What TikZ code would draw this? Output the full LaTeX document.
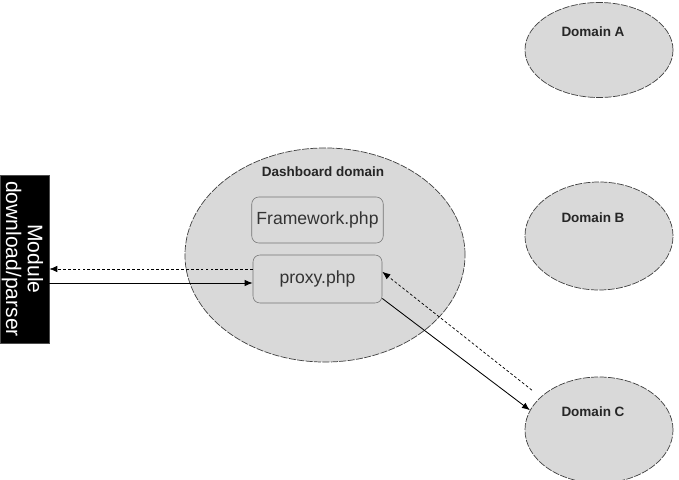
\documentclass[tikz,border=0pt]{standalone}
\usepackage{fontspec}
\setmainfont{Liberation Sans}
\usepackage{tikz}
\usetikzlibrary{arrows.meta, positioning, shapes.geometric, calc}

\begin{document}
\begin{tikzpicture}[
  x=0.025cm, y=-0.025cm,
  >=Latex,
  domnode/.style={ellipse,draw=black!75,fill=black!15,line width=0.5pt,dash pattern=on 5pt off 1pt,minimum width=3.7cm,inner sep=0pt},
  dlabel/.style={font=\bfseries\fontsize{9.6}{11}\selectfont,text=black!85,inner sep=0pt},
  phpbox/.style={draw=black!55,fill=black!15,rounded corners=5pt,line width=0.4pt,minimum width=3.225cm,minimum height=1.2cm,font=\fontsize{12.5}{14}\selectfont,text=black!80},
  arr/.style={-{Latex[length=2mm,width=1.6mm]},line width=0.6pt},
  back/.style={-{Latex[length=2mm,width=1.6mm]},line width=0.5pt,dash pattern=on 2pt off 1.5pt}
]
\useasboundingbox (0,0) rectangle (679,480);
\clip (0,0) rectangle (679,480);

% domains
\node[domnode,minimum width=7cm,minimum height=5.35cm] (dash) at (325,255) {};
\node[domnode,minimum height=2.375cm] (domA) at (599,50) {};
\node[domnode,minimum height=2.7cm] (domB) at (599,236) {};
\node[domnode,minimum height=2.65cm] (domC) at (599,430) {};

\node[dlabel] (dashlabel) at (323,172) {Dashboard domain};
\node[dlabel] (labelA) at (593,32) {Domain A};
\node[dlabel] (labelB) at (593,218) {Domain B};
\node[dlabel] (labelC) at (593,412) {Domain C};

% php files
\node[phpbox,minimum height=1.15cm] (framework) at (317.5,220) {Framework.php};
\node[phpbox] (proxy) at (317.5,279) {proxy.php};

% module
\node[draw=black!70,fill=black,minimum width=1.225cm,minimum height=4.2cm,inner sep=0pt] (module) at (24.5,259) {};
\node[rotate=-90,text=white,align=center,font=\fontsize{15}{15.5}\selectfont,inner sep=0pt] (moduletext) at (22.5,259) {Module\\download/parser};

% connectors
\draw[back] ([yshift=0.25cm]proxy.west) -- ([yshift=0.25cm]proxy.west -| module.east);
\draw[arr] ([yshift=-0.1cm]proxy.west -| module.east) -- ([yshift=-0.1cm]proxy.west);
\draw[arr] ([yshift=0.12cm]proxy.south east) -- (domC.164);
\draw[back] ($(domC.164)+(2,-20)$) -- ([yshift=0.18cm]proxy.east);
\end{tikzpicture}
\end{document}
